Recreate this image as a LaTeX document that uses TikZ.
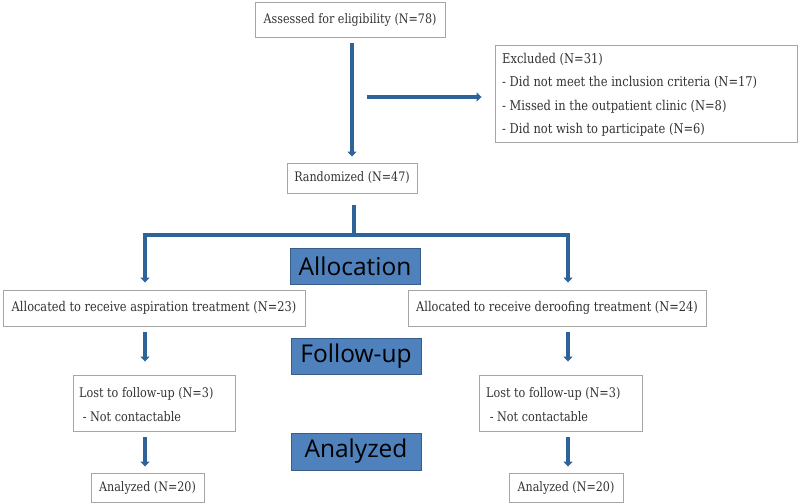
\documentclass[tikz,border=0pt]{standalone}
\usepackage{fontspec}
\setmainfont{DejaVu Serif}[FakeStretch=0.85]
\newfontfamily\labfont{Open Sans}
\usetikzlibrary{arrows.meta,calc}
\definecolor{arrblue}{HTML}{2E639A}
\definecolor{labfill}{HTML}{4F81BD}
\definecolor{labedge}{HTML}{385D8A}
\definecolor{boxedge}{HTML}{A6A6A6}
\definecolor{txt}{HTML}{333333}
\begin{document}
\begin{tikzpicture}[x=1pt,y=-1pt,
  box/.style={draw=boxedge,line width=0.9pt,rectangle,inner sep=0pt,text=txt,font=\fontsize{13.1}{15}\selectfont},
  lab/.style={draw=labedge,fill=labfill,line width=1pt,rectangle,inner sep=0pt,minimum width=130,minimum height=36,font=\labfont\fontsize{24.5}{27}\selectfont},
  arr/.style={draw=arrblue,line width=4.5pt,-{Triangle[width=9pt,length=5pt]}},
  bar/.style={draw=arrblue,line width=4.5pt}]
\useasboundingbox (0,0) rectangle (800,503);
% boxes
\node[box,minimum width=190,minimum height=35] (assess) at (350,19.5) {Assessed for eligibility (N=78)};
\node[box,minimum width=302,minimum height=97] (excl) at (646,93.5) {};
\node[anchor=west,align=left,inner sep=0pt,text=txt,font=\fontsize{13.5}{23.5}\selectfont] (excltxt) at (502,95)
  {Excluded (N=31)\\- Did not meet the inclusion criteria (N=17)\\- Missed in the outpatient clinic (N=8)\\- Did not wish to participate (N=6)};
\node[box,minimum width=130,minimum height=30] (rand) at (352,178) {Randomized (N=47)};
\node[lab] (alloc) at (355,266) {Allocation};
\node[box,minimum width=302,minimum height=36,font=\fontsize{13.4}{15}\selectfont] (allocL) at (154,308) {Allocated to receive aspiration treatment (N=23)};
\node[box,minimum width=298,minimum height=36,font=\fontsize{13.4}{15}\selectfont] (allocR) at (557,308) {Allocated to receive deroofing treatment (N=24)};
\node[lab] (follow) at (356,356) {Follow-up};
\node[box,minimum width=162,minimum height=56] (lostL) at (154,403) {};
\node[anchor=west,align=left,inner sep=0pt,text=txt,font=\fontsize{13.2}{24}\selectfont] (lostLtxt) at (79,405) {Lost to follow-up (N=3)\\\ - Not contactable};
\node[box,minimum width=163,minimum height=56] (lostR) at (560.5,403) {};
\node[anchor=west,align=left,inner sep=0pt,text=txt,font=\fontsize{13.2}{24}\selectfont] (lostRtxt) at (486,405) {Lost to follow-up (N=3)\\\ - Not contactable};
\node[lab,minimum height=37] (anal) at (356,451.5) {Analyzed};
\node[box,minimum width=113,minimum height=29] (anaL) at (147.5,487.5) {Analyzed (N=20)};
\node[box,minimum width=114,minimum height=29] (anaR) at (566,487.5) {Analyzed (N=20)};
% helper coordinates
\coordinate (xL) at (145,0);
\coordinate (xR) at (568,0);
\coordinate (hstart) at (367,97);
\coordinate (jn) at (354,235);
% connectors
\draw[arr,shorten <=6pt,shorten >=6pt] (assess.south -| rand.north) -- (rand.north);
\draw[arr,shorten >=13pt] (hstart) -- (hstart -| excl.west);
\draw[bar,line cap=butt] ([yshift=-12pt]rand.south -| jn) -- (jn);
\draw[arr,line join=miter,{Triangle[width=9pt,length=5pt]}-{Triangle[width=9pt,length=5pt]},shorten <=7pt,shorten >=7pt]
  (allocL.north -| xL) -- (jn -| xL) -- (jn -| xR) -- (allocR.north -| xR);
\draw[arr,shorten <=6pt,shorten >=13pt] (allocL.south -| xL) -- (lostL.north -| xL);
\draw[arr,shorten <=6pt,shorten >=13pt] (allocR.south -| xR) -- (lostR.north -| xR);
\draw[arr,shorten <=6pt,shorten >=6pt] (lostL.south -| xL) -- (anaL.north -| xL);
\draw[arr,shorten <=6pt,shorten >=6pt] (lostR.south -| xR) -- (anaR.north -| xR);
\end{tikzpicture}
\end{document}
